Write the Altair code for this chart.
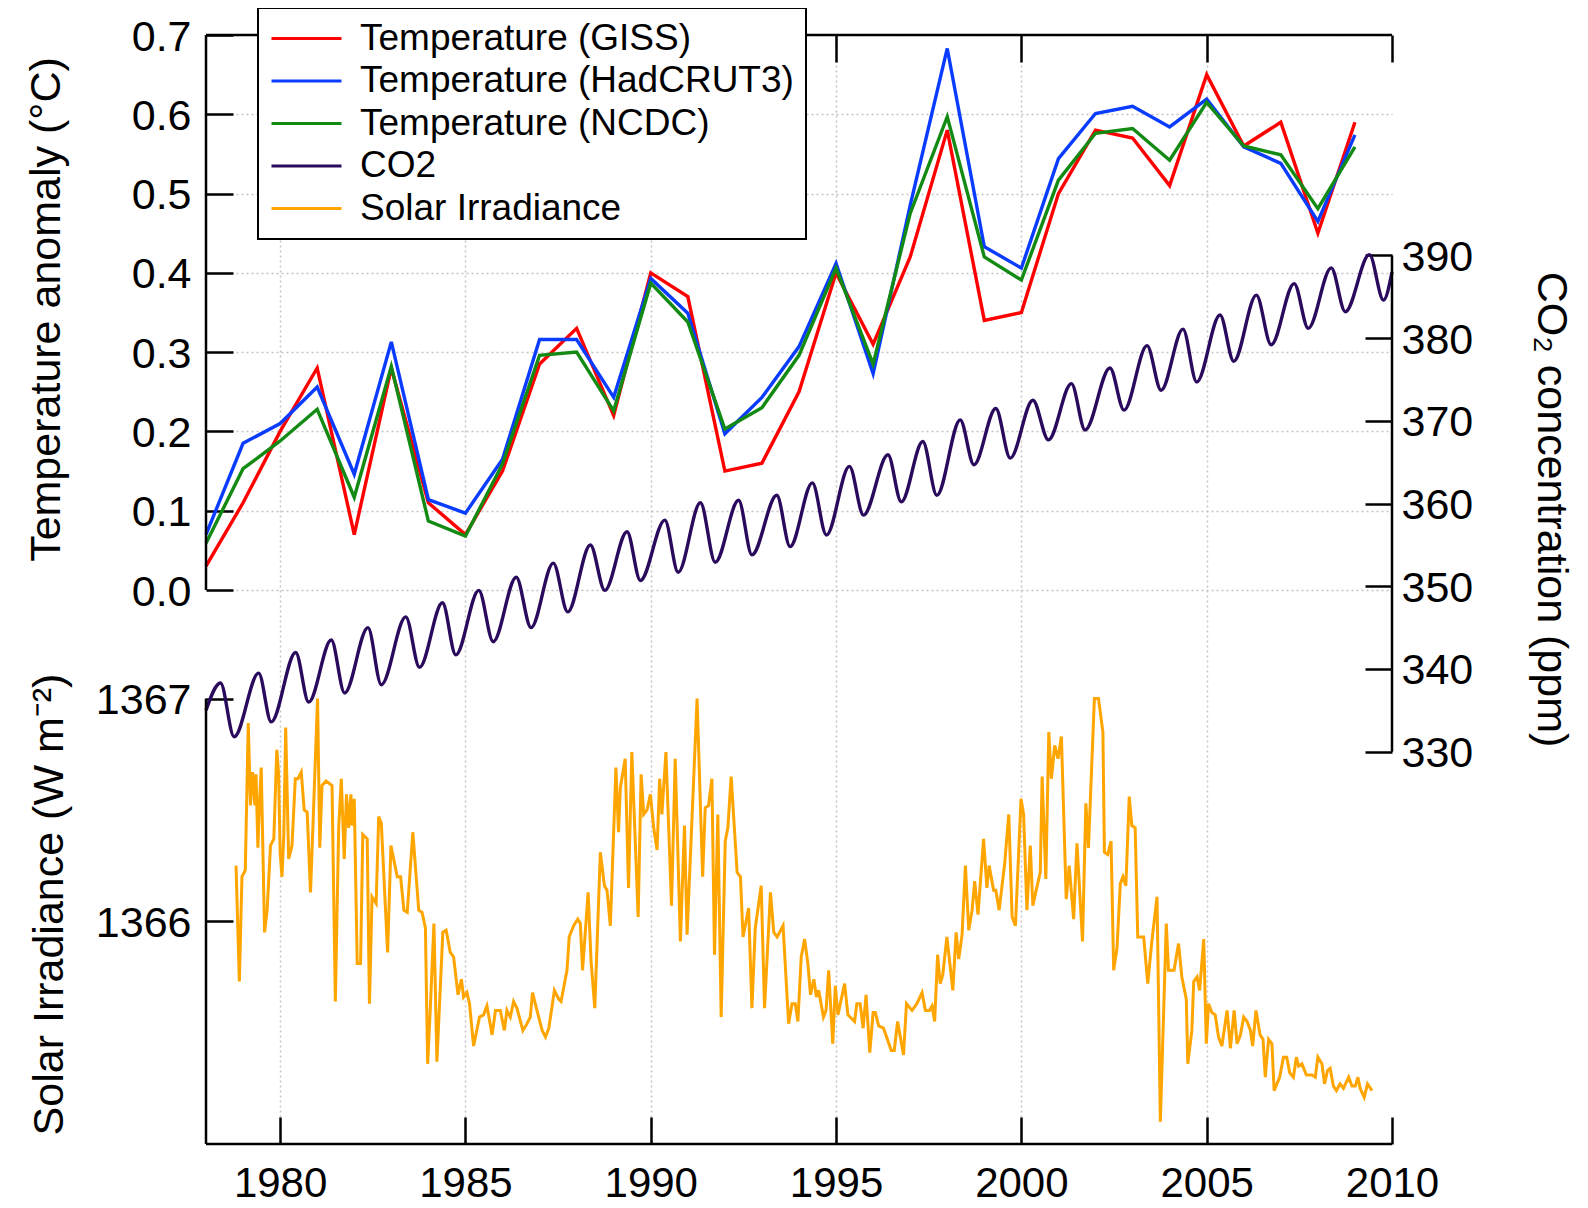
import altair as alt
import pandas as pd

# ---------------- data ----------------
years = list(range(1978, 2010))
giss = [0.03, 0.11, 0.20, 0.28, 0.07, 0.28, 0.11, 0.07, 0.15, 0.285, 0.33, 0.22,
        0.40, 0.37, 0.15, 0.16, 0.25, 0.40, 0.31, 0.42, 0.58, 0.34, 0.35, 0.50,
        0.58, 0.57, 0.51, 0.65, 0.56, 0.59, 0.45, 0.59]
hadcrut3 = [0.07, 0.185, 0.21, 0.256, 0.146, 0.313, 0.114, 0.097, 0.165, 0.316, 0.316, 0.243,
            0.393, 0.349, 0.197, 0.243, 0.307, 0.412, 0.273, 0.485, 0.683, 0.433, 0.406, 0.544,
            0.601, 0.610, 0.584, 0.619, 0.559, 0.538, 0.465, 0.574]
ncdc = [0.059, 0.153, 0.188, 0.228, 0.117, 0.282, 0.087, 0.068, 0.159, 0.296, 0.300, 0.226,
        0.387, 0.338, 0.203, 0.230, 0.296, 0.406, 0.285, 0.475, 0.597, 0.420, 0.391, 0.517,
        0.576, 0.582, 0.542, 0.615, 0.560, 0.549, 0.481, 0.559]

co2_t = [1978.00, 1978.39, 1978.76, 1979.42, 1979.76, 1980.42, 1980.77, 1981.38, 1981.74,
         1982.37, 1982.73, 1983.39, 1983.76, 1984.38, 1984.74, 1985.36, 1985.75, 1986.37,
         1986.77, 1987.37, 1987.76, 1988.37, 1988.76, 1989.36, 1989.72, 1990.38, 1990.74,
         1991.34, 1991.74, 1992.37, 1992.73, 1993.40, 1993.76, 1994.36, 1994.74, 1995.36,
         1995.74, 1996.40, 1996.76, 1997.34, 1997.72, 1998.35, 1998.72, 1999.31, 1999.70,
         2000.31, 2000.73, 2001.35, 2001.72, 2002.39, 2002.77, 2003.39, 2003.77, 2004.36,
         2004.73, 2005.36, 2005.73, 2006.34, 2006.74, 2007.36, 2007.74, 2008.36, 2008.74,
         2009.39, 2009.77, 2010.00]
co2_v = [335.0, 338.3, 331.8, 339.5, 333.6, 342.0, 336.0, 343.5, 337.1,
         345.0, 338.1, 346.3, 340.2, 348.0, 341.7, 349.5, 343.3, 351.1,
         345.0, 352.8, 346.9, 355.0, 349.5, 356.6, 350.7, 358.0, 351.7,
         360.1, 352.9, 360.4, 353.8, 361.0, 354.8, 362.5, 356.2, 364.5,
         358.6, 365.9, 360.2, 367.5, 361.0, 370.1, 364.7, 371.5, 365.5,
         372.5, 367.7, 374.5, 368.9, 376.4, 371.3, 379.1, 373.7, 381.1,
         374.7, 382.8, 377.2, 385.2, 379.2, 386.6, 381.2, 388.5, 383.2,
         390.1, 384.6, 388.0]

solar_t = [1978.81, 1978.90, 1978.97, 1979.06, 1979.14, 1979.20, 1979.26, 1979.32, 1979.35, 1979.40,
           1979.44, 1979.49, 1979.58, 1979.65, 1979.74, 1979.83, 1979.91, 1979.96, 1980.00, 1980.05,
           1980.10, 1980.15, 1980.23, 1980.32, 1980.41, 1980.48, 1980.57, 1980.65, 1980.73, 1980.82,
           1980.91, 1981.01, 1981.07, 1981.13, 1981.24, 1981.40, 1981.49, 1981.58, 1981.65, 1981.73,
           1981.79, 1981.85, 1981.91, 1981.94, 1982.00, 1982.08, 1982.17, 1982.23, 1982.35, 1982.41,
           1982.48, 1982.59, 1982.66, 1982.73, 1982.90, 1982.99, 1983.16, 1983.25, 1983.34, 1983.43,
           1983.58, 1983.74, 1983.83, 1983.92, 1983.98, 1984.05, 1984.15, 1984.23, 1984.39, 1984.48,
           1984.59, 1984.68, 1984.80, 1984.89, 1984.95, 1985.04, 1985.11, 1985.22, 1985.38, 1985.49,
           1985.58, 1985.72, 1985.81, 1985.94, 1986.05, 1986.12, 1986.21, 1986.30, 1986.39, 1986.55,
           1986.66, 1986.75, 1986.81, 1986.93, 1987.07, 1987.16, 1987.25, 1987.40, 1987.52, 1987.58,
           1987.74, 1987.80, 1987.92, 1988.03, 1988.10, 1988.16, 1988.31, 1988.39, 1988.49, 1988.64,
           1988.75, 1988.82, 1988.91, 1989.06, 1989.13, 1989.18, 1989.31, 1989.40, 1989.49, 1989.66,
           1989.74, 1989.81, 1989.90, 1989.99, 1990.08, 1990.17, 1990.24, 1990.30, 1990.41, 1990.56,
           1990.66, 1990.80, 1990.91, 1990.98, 1991.25, 1991.40, 1991.47, 1991.56, 1991.65, 1991.72,
           1991.81, 1991.90, 1992.01, 1992.08, 1992.17, 1992.33, 1992.42, 1992.49, 1992.64, 1992.73,
           1992.82, 1992.98, 1993.07, 1993.23, 1993.32, 1993.41, 1993.57, 1993.72, 1993.81, 1993.90,
           1993.97, 1994.06, 1994.15, 1994.24, 1994.31, 1994.40, 1994.47, 1994.53, 1994.66, 1994.73,
           1994.80, 1994.91, 1994.98, 1995.05, 1995.23, 1995.32, 1995.50, 1995.56, 1995.65, 1995.73,
           1995.81, 1995.91, 1996.00, 1996.06, 1996.15, 1996.28, 1996.49, 1996.57, 1996.66, 1996.82,
           1996.90, 1997.05, 1997.18, 1997.32, 1997.41, 1997.52, 1997.59, 1997.66, 1997.74, 1997.81,
           1997.88, 1997.99, 1998.15, 1998.24, 1998.31, 1998.40, 1998.49, 1998.58, 1998.67, 1998.74,
           1998.83, 1998.98, 1999.07, 1999.13, 1999.25, 1999.31, 1999.40, 1999.55, 1999.66, 1999.75,
           1999.84, 1999.99, 2000.06, 2000.15, 2000.24, 2000.31, 2000.40, 2000.51, 2000.56, 2000.66,
           2000.74, 2000.81, 2000.90, 2000.99, 2001.08, 2001.21, 2001.29, 2001.41, 2001.50, 2001.65,
           2001.74, 2001.81, 2001.97, 2002.08, 2002.20, 2002.24, 2002.33, 2002.42, 2002.49, 2002.58,
           2002.67, 2002.74, 2002.82, 2002.91, 2002.98, 2003.07, 2003.14, 2003.30, 2003.41, 2003.52,
           2003.66, 2003.75, 2003.91, 2003.97, 2004.06, 2004.12, 2004.24, 2004.33, 2004.45, 2004.49,
           2004.60, 2004.65, 2004.74, 2004.81, 2004.92, 2004.99, 2005.05, 2005.14, 2005.23, 2005.32,
           2005.41, 2005.55, 2005.64, 2005.74, 2005.82, 2005.91, 2006.00, 2006.09, 2006.18, 2006.24,
           2006.33, 2006.44, 2006.52, 2006.58, 2006.67, 2006.76, 2006.82, 2006.97, 2007.07, 2007.16,
           2007.24, 2007.34, 2007.42, 2007.48, 2007.57, 2007.69, 2007.84, 2007.93, 2008.00, 2008.11,
           2008.18, 2008.26, 2008.33, 2008.42, 2008.50, 2008.60, 2008.69, 2008.83, 2008.92, 2009.01,
           2009.08, 2009.14, 2009.25, 2009.34, 2009.46]
solar_v = [1366.25, 1365.73, 1366.20, 1366.23, 1366.89, 1366.52, 1366.67, 1366.52, 1366.66, 1366.33,
           1366.52, 1366.69, 1365.95, 1366.05, 1366.34, 1366.37, 1366.77, 1366.66, 1366.31, 1366.20,
           1366.39, 1366.87, 1366.28, 1366.34, 1366.64, 1366.64, 1366.67, 1366.50, 1366.49, 1366.13,
           1366.54, 1367.00, 1366.33, 1366.61, 1366.63, 1366.61, 1365.64, 1366.42, 1366.64, 1366.28,
           1366.57, 1366.42, 1366.57, 1366.43, 1366.55, 1365.81, 1365.81, 1366.39, 1366.37, 1365.63,
           1366.11, 1366.08, 1366.47, 1366.44, 1365.86, 1366.34, 1366.20, 1366.20, 1366.05, 1366.04,
           1366.40, 1366.05, 1366.04, 1365.97, 1365.36, 1365.60, 1365.99, 1365.37, 1365.95, 1365.96,
           1365.86, 1365.84, 1365.67, 1365.74, 1365.66, 1365.68, 1365.63, 1365.44, 1365.57, 1365.58,
           1365.62, 1365.49, 1365.60, 1365.60, 1365.51, 1365.60, 1365.57, 1365.64, 1365.61, 1365.51,
           1365.54, 1365.57, 1365.68, 1365.60, 1365.51, 1365.48, 1365.52, 1365.69, 1365.65, 1365.64,
           1365.78, 1365.93, 1365.98, 1366.01, 1365.99, 1365.78, 1366.13, 1365.82, 1365.61, 1366.31,
           1366.16, 1366.14, 1365.98, 1366.69, 1366.40, 1366.60, 1366.73, 1366.15, 1366.76, 1366.02,
           1366.66, 1366.48, 1366.50, 1366.57, 1366.42, 1366.32, 1366.64, 1366.48, 1366.76, 1366.07,
           1366.73, 1365.91, 1366.43, 1365.94, 1367.00, 1366.20, 1366.51, 1366.52, 1366.64, 1365.85,
           1366.48, 1365.57, 1366.36, 1366.42, 1366.65, 1366.22, 1366.20, 1365.93, 1366.06, 1365.61,
           1365.97, 1366.16, 1365.61, 1366.13, 1365.95, 1365.93, 1365.98, 1365.54, 1365.63, 1365.63,
           1365.55, 1365.84, 1365.92, 1365.81, 1365.67, 1365.74, 1365.66, 1365.69, 1365.57, 1365.60,
           1365.78, 1365.45, 1365.71, 1365.58, 1365.72, 1365.58, 1365.55, 1365.63, 1365.63, 1365.52,
           1365.67, 1365.41, 1365.59, 1365.59, 1365.53, 1365.52, 1365.42, 1365.42, 1365.55, 1365.40,
           1365.63, 1365.60, 1365.63, 1365.68, 1365.60, 1365.60, 1365.62, 1365.55, 1365.85, 1365.72,
           1365.76, 1365.93, 1365.69, 1365.95, 1365.83, 1365.94, 1366.25, 1365.96, 1366.05, 1366.18,
           1366.03, 1366.37, 1366.15, 1366.25, 1366.14, 1366.14, 1366.05, 1366.26, 1366.48, 1366.02,
           1365.98, 1366.55, 1366.48, 1366.05, 1366.34, 1366.07, 1366.14, 1366.22, 1366.65, 1366.19,
           1366.85, 1366.64, 1366.79, 1366.73, 1366.83, 1366.10, 1366.25, 1366.01, 1366.35, 1365.91,
           1366.53, 1366.33, 1367.00, 1367.00, 1366.85, 1366.31, 1366.30, 1366.36, 1365.78, 1365.88,
           1366.17, 1366.20, 1366.16, 1366.56, 1366.43, 1366.42, 1365.93, 1365.93, 1365.72, 1365.91,
           1366.11, 1365.10, 1365.99, 1365.78, 1365.78, 1365.78, 1365.90, 1365.75, 1365.65, 1365.36,
           1365.51, 1365.73, 1365.75, 1365.69, 1365.92, 1365.45, 1365.63, 1365.59, 1365.58, 1365.48,
           1365.44, 1365.60, 1365.43, 1365.60, 1365.45, 1365.49, 1365.57, 1365.55, 1365.51, 1365.44,
           1365.60, 1365.49, 1365.47, 1365.30, 1365.47, 1365.45, 1365.24, 1365.30, 1365.39, 1365.39,
           1365.32, 1365.30, 1365.39, 1365.35, 1365.36, 1365.31, 1365.31, 1365.30, 1365.39, 1365.36,
           1365.27, 1365.33, 1365.34, 1365.26, 1365.24, 1365.27, 1365.25, 1365.30, 1365.26, 1365.26,
           1365.30, 1365.25, 1365.21, 1365.27, 1365.24]

series_names = ["Temperature (GISS)", "Temperature (HadCRUT3)", "Temperature (NCDC)",
                "CO2", "Solar Irradiance"]
series_colors = ["#ff0000", "#0a3cff", "#138a13", "#2a0a5c", "#ffa500"]

x_ticks = [1980, 1985, 1990, 1995, 2000, 2005, 2010]
temp_ticks = [0.0, 0.1, 0.2, 0.3, 0.4, 0.5, 0.6, 0.7]
co2_ticks = [330, 340, 350, 360, 370, 380, 390]
irr_ticks = [1366, 1367]

# axis extents (data values) used for the frame lines
x_range = [1978, 2010]
temp_range = [0.0, 0.7]
co2_range = [330, 390]
irr_range = [1365, 1367]

# ---------------- tables ----------------
temp_df = pd.DataFrame({
    "year": years * 3,
    "value": giss + hadcrut3 + ncdc,
    "series": [series_names[0]] * len(years) + [series_names[1]] * len(years) + [series_names[2]] * len(years),
})
co2_df = pd.DataFrame({"year": co2_t, "value": co2_v, "series": "CO2"})
solar_df = pd.DataFrame({"year": solar_t, "value": solar_v, "series": "Solar Irradiance"})

W, H = 1186, 1109
TICK = 27
FS = 43

x_scale = alt.Scale(domain=x_range, nice=False, zero=False)
TEMP_DOM = [-0.6987, 0.7]
CO2_DOM = [282.56, 416.66]
IRR_DOM = [1365.0, 1369.98]


def sc(dom):
    return alt.Scale(domain=dom, nice=False, zero=False)


color_scale = alt.Scale(domain=series_names, range=series_colors)
legend = alt.Legend(
    title=None, orient="none", legendX=52, legendY=-27, direction="vertical",
    fillColor="white", strokeColor="black", padding=12,
    symbolType="stroke", symbolSize=4900, symbolStrokeWidth=3, clipHeight=37,
    labelFontSize=37, labelOffset=17, labelLimit=1000, rowPadding=4.5, labelColor="black",
)
color_enc = alt.Color("series:N", scale=color_scale, legend=legend)

grid_opacity = {"condition": {"test": "datum.value === 2010", "value": 0}, "value": 1}

x_bottom_axis = alt.Axis(
    orient="bottom", offset=-TICK, tickSize=TICK, domain=False, values=x_ticks, format="d",
    labelPadding=19, labelFontSize=42, labelFlush=False, title=None, grid=True,
    gridOpacity=grid_opacity,
)
x_top_axis = alt.Axis(
    orient="top", offset=-TICK, tickSize=TICK, domain=False, values=x_ticks, labels=False,
    title=None, grid=False,
)
temp_axis = alt.Axis(
    orient="left", offset=-TICK, tickSize=TICK, domain=False, values=temp_ticks, format=".1f",
    labelPadding=15, labelOffset=2, grid=True,
    title="Temperature anomaly (°C)", titleAngle=270, titleX=-187, titleY=274,
    titleAlign="center", titleBaseline="middle",
)
irr_axis = alt.Axis(
    orient="left", offset=-TICK, tickSize=TICK, domain=False, values=irr_ticks, format="d",
    labelPadding=15, labelOffset=2, grid=False,
    title="Solar Irradiance (W m⁻²)", titleAngle=270, titleX=-184, titleY=869,
    titleAlign="center", titleBaseline="middle",
)
co2_axis = alt.Axis(
    orient="right", offset=-TICK, tickSize=TICK, domain=False, values=co2_ticks, format="d",
    labelPadding=9, labelOffset=2, grid=False,
    title="CO₂ concentration (ppm)", titleAngle=90, titleX=185, titleY=474,
    titleAlign="center", titleBaseline="middle",
)


def vrule(x, y0, y1, dom):
    df = pd.DataFrame({"x": [x], "y0": [y0], "y1": [y1]})
    return alt.Chart(df).mark_rule(color="black", strokeWidth=2.5).encode(
        x=alt.X("x:Q", scale=x_scale, axis=None),
        y=alt.Y("y0:Q", scale=sc(dom), axis=None), y2="y1:Q")


def hrule(x0, x1, y, dom):
    df = pd.DataFrame({"x0": [x0], "x1": [x1], "y": [y]})
    return alt.Chart(df).mark_rule(color="black", strokeWidth=2.5).encode(
        x=alt.X("x0:Q", scale=x_scale, axis=None), x2="x1:Q",
        y=alt.Y("y:Q", scale=sc(dom), axis=None))


temp_lines = alt.Chart(temp_df).mark_line(strokeWidth=3.4).encode(
    x=alt.X("year:Q", scale=x_scale, axis=x_bottom_axis),
    y=alt.Y("value:Q", scale=sc(TEMP_DOM), axis=temp_axis),
    color=color_enc,
    order=alt.Order("year:Q"),
)
co2_line = alt.Chart(co2_df).mark_line(strokeWidth=3.4, interpolate="monotone").encode(
    x=alt.X("year:Q", scale=x_scale, axis=x_top_axis),
    y=alt.Y("value:Q", scale=sc(CO2_DOM), axis=co2_axis),
    color=color_enc,
)
solar_line = alt.Chart(solar_df).mark_line(strokeWidth=3).encode(
    x=alt.X("year:Q", scale=x_scale, axis=None),
    y=alt.Y("value:Q", scale=sc(IRR_DOM), axis=irr_axis),
    color=color_enc,
)

chart = alt.layer(
    temp_lines,
    solar_line,
    co2_line,
    vrule(x_range[0], temp_range[0], temp_range[1], TEMP_DOM),
    hrule(x_range[0], x_range[1], temp_range[1], TEMP_DOM),
    vrule(x_range[0], irr_range[0], irr_range[1], IRR_DOM),
    hrule(x_range[0], x_range[1], irr_range[0], IRR_DOM),
    vrule(x_range[1], co2_range[0], co2_range[1], CO2_DOM),
).resolve_scale(
    y="independent"
).resolve_axis(
    x="independent", y="independent"
).properties(
    width=W, height=H,
    padding={"left": 198, "top": 27, "right": 188, "bottom": 62},
    autosize=alt.AutoSizeParams(type="none"),
).configure(
    font="Liberation Sans",
).configure_view(
    stroke=None,
).configure_axis(
    labelFont="Liberation Sans", titleFont="Liberation Sans",
    labelFontSize=FS, titleFontSize=FS, titleFontWeight="normal",
    labelColor="black", titleColor="black",
    tickColor="black", tickWidth=2.5,
    gridColor="#c4c4c4", gridDash=[2, 3], gridWidth=1.5,
).configure_legend(
    labelFont="Liberation Sans", strokeWidth=2, cornerRadius=0,
)

chart.save("out.html", embed_options={"renderer": "svg", "actions": False})
